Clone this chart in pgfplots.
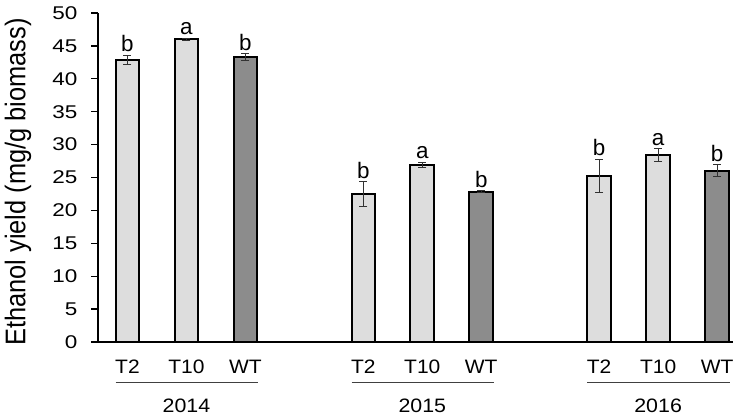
\documentclass[border=0pt]{standalone}
\usepackage{pgfplots}
\usepackage{pgfplotstable}
\pgfplotsset{compat=1.18}
\usepackage{fontspec}
\setmainfont{Liberation Sans}
\newcommand{\hs}[2]{\scalebox{#1}[1]{#2}}
\definecolor{lightbar}{RGB}{221,221,221}
\definecolor{darkbar}{RGB}{140,140,140}
\definecolor{errcol}{RGB}{50,50,50}
\pgfplotstableread{
x y e l
0 42.9 0.7 b
1 46.0 0.2 a
4 22.5 1.9 b
5 26.95 0.35 a
8 25.3 2.5 b
9 28.4 0.95 a
}\lightdata
\pgfplotstableread{
x y e l
2 43.3 0.5 b
6 22.85 0.15 b
10 26.05 0.9 b
}\darkdata
\begin{document}
\begin{tikzpicture}
\begin{axis}[
  scale only axis, width=635bp, height=329bp,
  xmin=-0.5, xmax=10.27, ymin=0, ymax=50,
  axis lines*=left, axis line style={line width=1.3bp, -},
  ytick={0,5,...,50},
  yticklabel={\hs{1.22}{\pgfmathprintnumber{\tick}}},
  xtick={0,1,2,4,5,6,8,9,10},
  xticklabels={\hs{1.08}{T2},\hs{1.08}{T10},\hs{1.08}{WT},\hs{1.08}{T2},\hs{1.08}{T10},\hs{1.08}{WT},\hs{1.08}{T2},\hs{1.08}{T10},\hs{1.08}{WT}},
  x tick style={draw=none},
  y tick style={line width=1.3bp, black},
  tick align=outside, major tick length=7bp,
  /pgf/number format/assume math mode=true,
  yticklabel style={font=\fontsize{18.5}{18.5}\selectfont, xshift=-10bp},
  xticklabel style={font=\fontsize{19.5}{19.5}\selectfont, anchor=base, yshift=-24bp},
  ylabel={\fontsize{25.5}{25.5}\selectfont\scalebox{1}[1.12]{Ethanol yield (mg/g biomass)}},
  every axis y label/.style={at={([xshift=-80bp,yshift=-4.5bp]axis description cs:0,0.5)}, rotate=90, anchor=center},
  clip=false,
]
\addplot[ybar, bar width=0.4, bar shift=0pt, fill=lightbar, draw=black, line width=2bp,
  error bars/.cd, y dir=both, y explicit,
  error bar style={line width=0.9bp, errcol}, error mark options={rotate=90, mark size=4bp, line width=0.9bp, errcol}]
  table[x=x, y=y, y error=e] {\lightdata};
\addplot[ybar, bar width=0.4, bar shift=0pt, fill=darkbar, draw=black, line width=2bp,
  error bars/.cd, y dir=both, y explicit,
  error bar style={line width=0.9bp, errcol}, error mark options={rotate=90, mark size=4bp, line width=0.9bp, errcol}]
  table[x=x, y=y, y error=e] {\darkdata};
\addplot[draw=none, mark=none, nodes near coords, point meta=explicit symbolic,
  every node near coord/.style={anchor=south, inner sep=3bp, black, font=\fontsize{22.5}{22.5}\selectfont}]
  table[x=x, y expr=\thisrow{y}+\thisrow{e}, meta=l] {\lightdata};
\addplot[draw=none, mark=none, nodes near coords, point meta=explicit symbolic,
  every node near coord/.style={anchor=south, inner sep=3bp, black, font=\fontsize{22.5}{22.5}\selectfont}]
  table[x=x, y expr=\thisrow{y}+\thisrow{e}, meta=l] {\darkdata};
\draw[line width=1.1bp, black!75] ([yshift=-40.7bp]axis cs:-0.2,0) -- ([yshift=-40.7bp]axis cs:2.22,0);
\draw[line width=1.1bp, black!75] ([yshift=-40.7bp]axis cs:3.8,0) -- ([yshift=-40.7bp]axis cs:6.22,0);
\draw[line width=1.1bp, black!75] ([yshift=-40.7bp]axis cs:7.8,0) -- ([yshift=-40.7bp]axis cs:10.22,0);
\node[font=\fontsize{19.5}{19.5}\selectfont, anchor=base] at ([yshift=-70bp]axis cs:1,0) {\hs{1.1}{2014}};
\node[font=\fontsize{19.5}{19.5}\selectfont, anchor=base] at ([yshift=-70bp]axis cs:5,0) {\hs{1.1}{2015}};
\node[font=\fontsize{19.5}{19.5}\selectfont, anchor=base] at ([yshift=-70bp]axis cs:9,0) {\hs{1.1}{2016}};
\coordinate (bl) at (rel axis cs:0,0);
\coordinate (tr) at (rel axis cs:1,1);
\end{axis}
\pgfresetboundingbox
\path ([xshift=-98bp,yshift=-77bp]bl) rectangle ([xshift=6bp,yshift=13bp]tr);
\end{tikzpicture}
\end{document}
